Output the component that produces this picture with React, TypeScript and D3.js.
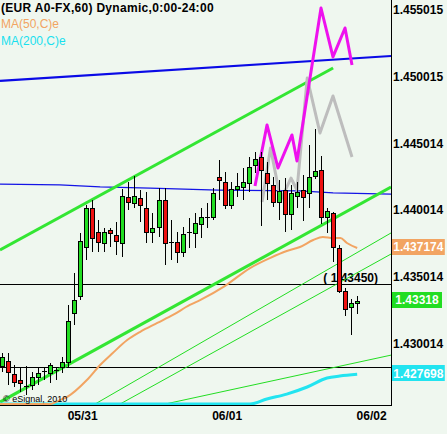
import React from "react";
import * as d3 from "d3";

const W = 447;
const H = 434;
const PLOT_RIGHT = 391;
const PLOT_BOTTOM = 405;

// Hourly EUR/USD candles (05/30 evening .. 06/01 late)
const opens = [
  1.42832, 1.42869, 1.42772, 1.42727, 1.42682, 1.42689, 1.42749, 1.42794, 1.42779, 1.42802,
  1.42824, 1.42862, 1.43229, 1.43357, 1.43724, 1.44017, 1.43837, 1.43754, 1.43852, 1.43814,
  1.43754, 1.44099, 1.44054, 1.44092, 1.44017, 1.43837, 1.43874, 1.44077, 1.43762, 1.43762,
  1.43687, 1.43837, 1.43829, 1.43897, 1.43949, 1.43949, 1.44249, 1.44212, 1.44039, 1.44159,
  1.44174, 1.44204, 1.44339, 1.44399, 1.44279, 1.44189, 1.44062, 1.44152, 1.43972, 1.44107,
  1.44152, 1.44129, 1.44257, 1.44302, 1.43949, 1.43979, 1.43717, 1.43394, 1.43274, 1.43304,
];
const highs = [
  1.42929, 1.42929, 1.42839, 1.42824, 1.42832, 1.42787, 1.42817, 1.42817, 1.42854, 1.42824,
  1.42899, 1.43289, 1.43529, 1.43829, 1.44039, 1.44077, 1.43927, 1.43867, 1.43867, 1.43912,
  1.44159, 1.44212, 1.44257, 1.44152, 1.44137, 1.43979, 1.44167, 1.44167, 1.43927, 1.43837,
  1.43874, 1.43942, 1.43979, 1.44017, 1.44054, 1.44167, 1.44377, 1.44287, 1.44212, 1.44279,
  1.44317, 1.44399, 1.44437, 1.44437, 1.44362, 1.44249, 1.44227, 1.44242, 1.44189, 1.44212,
  1.44264, 1.44489, 1.44609, 1.44407, 1.44017, 1.43987, 1.43739, 1.43417, 1.43334, 1.43357,
];
const lows = [
  1.42787, 1.42689, 1.42674, 1.42637, 1.42614, 1.42652, 1.42689, 1.42727, 1.42704, 1.42727,
  1.42779, 1.42817, 1.43139, 1.43327, 1.43627, 1.43687, 1.43687, 1.43687, 1.43724, 1.43664,
  1.43649, 1.44002, 1.44017, 1.43912, 1.43754, 1.43754, 1.43799, 1.43589, 1.43627, 1.43604,
  1.43649, 1.43717, 1.43717, 1.43792, 1.43867, 1.43927, 1.44077, 1.44009, 1.44009, 1.44099,
  1.44077, 1.44137, 1.44279, 1.43882, 1.44077, 1.44024, 1.43927, 1.43837, 1.43852, 1.44017,
  1.43919, 1.44017, 1.44234, 1.43897, 1.43829, 1.43612, 1.43379, 1.43207, 1.43064, 1.43222,
];
const closes = [
  1.42899, 1.42787, 1.42712, 1.42704, 1.42682, 1.42749, 1.42779, 1.42794, 1.42839, 1.42802,
  1.42862, 1.43169, 1.43327, 1.43769, 1.44017, 1.43792, 1.43762, 1.43837, 1.43829, 1.43769,
  1.44107, 1.44062, 1.44107, 1.44039, 1.43837, 1.43867, 1.44077, 1.43754, 1.43762, 1.43687,
  1.43822, 1.43837, 1.43904, 1.43949, 1.43949, 1.44129, 1.44227, 1.44039, 1.44159, 1.44182,
  1.44212, 1.44324, 1.44384, 1.44302, 1.44204, 1.44062, 1.44144, 1.43972, 1.44129, 1.44137,
  1.44099, 1.44249, 1.44294, 1.43949, 1.43994, 1.43724, 1.43394, 1.43259, 1.43304, 1.43318,
];

// Date labels (bar index of each day's start)
const dateIdx = [13, 37, 61];
const dateLabels = ["05/31", "06/01", "06/02"];

// Right price axis
const priceTicks = [1.455015, 1.450015, 1.445014, 1.440014, 1.435014, 1.430014];
const priceTickLabels = ["1.455015", "1.450015", "1.445014", "1.440014", "1.435014", "1.430014"];

// Moving averages (bar index, value); values below the pane sit on its floor
const ma50Idx = [-0.33, 8.0, 9.6, 10.8, 14.1, 16.3, 18.4, 20.8, 22.9, 25.8, 28.4, 31.2, 32.9, 37.0, 41.2, 44.5, 47.3, 49.5, 51.7, 53.3, 55.0, 56.2, 57.3, 59.0];
const ma50Val = [1.42547, 1.42547, 1.42577, 1.426, 1.42727, 1.4284, 1.4293, 1.43027, 1.43087, 1.43155, 1.43215, 1.4329, 1.43327, 1.43432, 1.43567, 1.43642, 1.43695, 1.43725, 1.43777, 1.438, 1.43792, 1.43792, 1.43755, 1.43717];
const ma200Idx = [-0.33, 41.2, 44.0, 47.3, 50.7, 54.0, 56.1, 59.0];
const ma200Val = [1.42547, 1.42547, 1.42585, 1.42622, 1.42675, 1.42742, 1.42757, 1.4277];

// Drawn trend lines: [bar index, price]
const blueUpper: [number, number][] = [[-0.33, 1.4497], [64.62, 1.45157]];
const blueLower: [number, number][] = [[-0.33, 1.44197], [9.6, 1.4419], [16.3, 1.44175], [24.6, 1.44167], [35.9, 1.44152], [49.5, 1.44145], [55.0, 1.4413], [64.62, 1.44122]];
const greenChannelTop: [number, number][] = [[-0.33, 1.43702], [55.0, 1.45067]];
const greenChannelBottom: [number, number][] = [[-0.33, 1.42562], [64.62, 1.44174]];
const greenFanA: [number, number][] = [[15.45, 1.42547], [64.62, 1.4383]];
const greenFanB: [number, number][] = [[19.6, 1.42547], [64.62, 1.43672]];
const greenFanC: [number, number][] = [[27.08, 1.42547], [64.62, 1.42914]];

// Projection patterns
const projMagenta: [number, number][] = [[42.03, 1.44182], [44.02, 1.4464], [45.85, 1.44317], [48.17, 1.44565], [49.0, 1.4437], [52.99, 1.45517], [54.98, 1.4515], [56.98, 1.45367], [58.14, 1.4509]];
const projGray: [number, number][] = [[43.2, 1.44062], [44.6, 1.44467], [46.3, 1.44077], [48.0, 1.44242], [49.0, 1.44152], [50.7, 1.44992], [52.82, 1.4458], [54.98, 1.44857], [58.14, 1.444]];

// Horizontal levels
const hLevels = [1.4345, 1.42824];
const hLevelLabel = "( 1.43450)";

// Last-value markers
const lastVals = [1.437174, 1.43318, 1.427698];
const lastLabels = ["1.437174", "1.43318", "1.427698"];
const lastColors = ["#f2a462", "#22dd22", "#22e4f0"];

const FONT = "'Liberation Sans', Arial, sans-serif";

export default function App() {
  const x = d3.scaleLinear().domain([0, 59]).range([2, 2 + 6.02 * 59]);
  const y = d3.scaleLinear().domain([1.4254, 1.45577]).range([PLOT_BOTTOM, 0]);

  const line = d3
    .line<[number, number]>()
    .x((d) => x(d[0]))
    .y((d) => y(d[1]));
  const smooth = d3
    .line<[number, number]>()
    .x((d) => x(d[0]))
    .y((d) => y(d[1]))
    .curve(d3.curveMonotoneX);

  const ma50: [number, number][] = ma50Idx.map((d, i) => [d, ma50Val[i]]);
  const ma200: [number, number][] = ma200Idx.map((d, i) => [d, ma200Val[i]]);

  const green = "#22dd22";
  const red = "#ee1111";

  return (
    <svg width={W} height={H} style={{ position: "absolute", left: 0, top: 0, display: "block" }} fontFamily={FONT}>
      <defs>
        <clipPath id="plot">
          <rect x={0} y={0} width={PLOT_RIGHT} height={PLOT_BOTTOM} />
        </clipPath>
      </defs>
      <rect x={0} y={0} width={W} height={H} fill="#eff7ef" />

      <g clipPath="url(#plot)">
        {hLevels.map((v, i) => (
          <line key={i} x1={0} x2={PLOT_RIGHT} y1={Math.round(y(v)) + 0.5} y2={Math.round(y(v)) + 0.5} stroke="#000" strokeWidth={1} />
        ))}
        <text x={PLOT_RIGHT - 13} y={y(hLevels[0]) - 2} textAnchor="end" fontSize={12} fontWeight="bold" fill="#000">
          {hLevelLabel}
        </text>

        <path d={line(blueUpper) || ""} fill="none" stroke="#0a0ae6" strokeWidth={2.2} />
        <path d={line(blueLower) || ""} fill="none" stroke="#1414e6" strokeWidth={1.2} />

        <path d={line(greenFanA) || ""} fill="none" stroke={green} strokeWidth={1} />
        <path d={line(greenFanB) || ""} fill="none" stroke={green} strokeWidth={1} />
        <path d={line(greenFanC) || ""} fill="none" stroke={green} strokeWidth={1} />
        <path d={line(greenChannelTop) || ""} fill="none" stroke="#33e633" strokeWidth={3} />
        <path d={line(greenChannelBottom) || ""} fill="none" stroke="#33e633" strokeWidth={3} />

        <path d={smooth(ma200) || ""} fill="none" stroke="#22e4f0" strokeWidth={3} />
        <path d={smooth(ma50) || ""} fill="none" stroke="#f2a462" strokeWidth={2} />

        <path d={line(projGray) || ""} fill="none" stroke="#bdbdbd" strokeWidth={3} strokeLinejoin="round" />
        <path d={line(projMagenta) || ""} fill="none" stroke="#ee11ee" strokeWidth={3} strokeLinejoin="round" />

        {opens.map((o, i) => {
          const c = closes[i];
          const px = Math.round(x(i));
          const yh = Math.round(y(highs[i]));
          const yl = Math.round(y(lows[i]));
          const yTop = Math.round(y(Math.max(o, c)));
          const yBot = Math.round(y(Math.min(o, c)));
          const doji = yBot - yTop < 1;
          return (
            <g key={i}>
              <line x1={px + 0.5} x2={px + 0.5} y1={yh} y2={yl} stroke="#000" strokeWidth={1} />
              {doji ? (
                <line x1={px - 2} x2={px + 3} y1={yTop + 0.5} y2={yTop + 0.5} stroke="#000" strokeWidth={1} />
              ) : (
                <rect
                  x={px - 1.5}
                  y={yTop + 0.5}
                  width={4}
                  height={Math.max(1, yBot - yTop)}
                  fill={c >= o ? green : red}
                  stroke="#000"
                  strokeWidth={1}
                />
              )}
            </g>
          );
        })}
      </g>

      {/* axes */}
      <line x1={PLOT_RIGHT + 0.5} x2={PLOT_RIGHT + 0.5} y1={0} y2={PLOT_BOTTOM + 1} stroke="#000" strokeWidth={1} />
      <line x1={0} x2={PLOT_RIGHT + 1} y1={PLOT_BOTTOM + 0.5} y2={PLOT_BOTTOM + 0.5} stroke="#000" strokeWidth={1} />

      {priceTicks.map((v, i) => (
        <text key={i} x={PLOT_RIGHT + 2} y={y(v)} dy="0.35em" fontSize={12} fontWeight="bold" fill="#000">
          {priceTickLabels[i]}
        </text>
      ))}

      {lastVals.map((v, i) => {
        const w = Math.max(50, lastLabels[i].length * 6.6);
        const cy = y(v) - 1;
        return (
          <g key={i}>
            <rect x={PLOT_RIGHT + 1} y={Math.round(cy - 8)} width={w} height={16} fill={lastColors[i]} />
            <text x={PLOT_RIGHT + 1 + w / 2} y={cy} dy="0.35em" textAnchor="middle" fontSize={12} fontWeight="bold" fill="#fff">
              {lastLabels[i]}
            </text>
          </g>
        );
      })}

      {dateIdx.map((d, i) => (
        <text key={i} x={x(d + 0.4)} y={420} textAnchor="middle" fontSize={12} fontWeight="bold" fill="#000">
          {dateLabels[i]}
        </text>
      ))}

      <text x={1} y={12} fontSize={12} fontWeight="bold" letterSpacing={0.3} fill="#000">
        (EUR A0-FX,60) Dynamic,0:00-24:00
      </text>
      <text x={1} y={28} fontSize={12} fill="#f2a462">
        MA(50,C)e
      </text>
      <text x={1} y={45} fontSize={12} fill="#18e0ee">
        MA(200,C)e
      </text>
      <text x={3} y={402} fontSize={9} fill="#000">
        © eSignal, 2010
      </text>
    </svg>
  );
}
